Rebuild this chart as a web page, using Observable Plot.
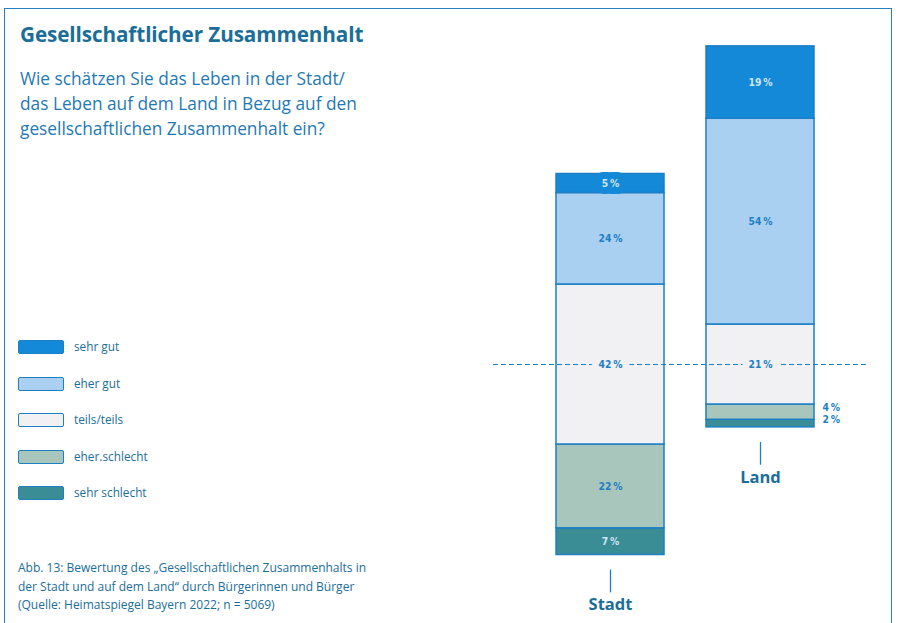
<!DOCTYPE html>
<html>
<head>
<meta charset="utf-8">
<script src="https://cdn.jsdelivr.net/npm/d3@7"></script>
<script src="https://cdn.jsdelivr.net/npm/@observablehq/plot@0.6"></script>
<style>
  html, body { margin: 0; padding: 0; background: #fff; }
  #page { position: relative; width: 899px; height: 623px; overflow: hidden; font-family: "Open Sans", Lato, sans-serif; }
  #frame { position: absolute; left: 4px; top: 8px; width: 888px; height: 640px; border: 1.3px solid #2a7fbd; box-sizing: border-box; }
  #chart { position: absolute; left: 0; top: 0; }
  #title { position: absolute; left: 20px; top: 20px; font-size: 20.7px; font-weight: 700; color: #1a6e98; white-space: nowrap; letter-spacing: -0.1px; }
  #subtitle { position: absolute; left: 20px; top: 66px; font-size: 17.3px; line-height: 25px; color: #1f79b2; white-space: nowrap; }
  #legend { position: absolute; left: 18px; top: 338px; }
  .item { position: relative; height: 36.5px; }
  .sw { position: absolute; left: 0; top: 2px; width: 46px; height: 14px; border: 1.5px solid #1d7fc4; border-radius: 2px; box-sizing: border-box; }
  .lab { position: absolute; left: 56px; top: 0px; font-size: 11.8px; line-height: 17px; color: #1b6e98; white-space: nowrap; }
  #caption { position: absolute; left: 18px; top: 559px; font-size: 12px; line-height: 18.5px; color: #1b6e98; white-space: nowrap; }
</style>
</head>
<body>
<div id="page">
  <div id="frame"></div>
  <div id="chart"></div>
  <div id="title">Gesellschaftlicher Zusammenhalt</div>
  <div id="subtitle">Wie schätzen Sie das Leben in der Stadt/<br>das Leben auf dem Land in Bezug auf den<br>gesellschaftlichen Zusammenhalt ein?</div>
  <div id="legend"></div>
  <div id="caption">Abb. 13: Bewertung des „Gesellschaftlichen Zusammenhalts in<br>der Stadt und auf dem Land“ durch Bürgerinnen und Bürger<br>(Quelle: Heimatspiegel Bayern 2022; n = 5069)</div>
</div>
<script>
const groups = ["Stadt", "Land"];
const categories = ["sehr gut", "eher gut", "teils/teils", "eher schlecht", "sehr schlecht"];
const legendLabels = ["sehr gut", "eher gut", "teils/teils", "eher.schlecht", "sehr schlecht"];
const stadtValues = [5, 24, 42, 22, 7];
const landValues = [19, 54, 21, 4, 2];
const colors = ["#1489d8", "#a9d0f1", "#f1f1f3", "#a8c6bc", "#3b8d95"];
const lightLabel = ["sehr gut", "sehr schlecht"];

function stack(group, values) {
  let y = -(values[4] + values[3] + values[2] / 2);
  const rows = [];
  for (let i = 4; i >= 0; i--) {
    rows.push({group, category: categories[i], value: values[i], y1: y, y2: y + values[i]});
    y += values[i];
  }
  return rows;
}
const rows = [...stack("Stadt", stadtValues), ...stack("Land", landValues)];
const groupRows = groups.map(g => ({group: g, bottom: d3.min(rows.filter(r => r.group === g), r => r.y1)}));

const blue = "#1d7fc4";
const mid = d => (d.y1 + d.y2) / 2;
const pct = d => d.value + "\u2009%";
const inside = rows.filter(d => d.value >= 5);
const outside = rows.filter(d => d.value < 5);
const labelFont = {fontFamily: "'DejaVu Sans Condensed', 'DejaVu Sans', sans-serif", fontWeight: "bold", fontSize: 10.3};

const chart = Plot.plot({
  width: 899,
  height: 623,
  marginLeft: 493,
  marginRight: 33,
  marginTop: 0,
  marginBottom: 0,
  x: {type: "band", domain: groups, range: [535, 835], paddingInner: 0.28, paddingOuter: 0.14, axis: null},
  y: {domain: [-50, 50], range: [554.5, 173.5], axis: null},
  color: {domain: categories, range: colors},
  marks: [
    Plot.rectY(rows, {x: "group", y1: "y1", y2: "y2", fill: "category", stroke: blue, strokeWidth: 1.5}),
    Plot.ruleY([0], {stroke: blue, strokeWidth: 1.2, strokeDasharray: "5,3"}),
    Plot.text(inside, {x: "group", y: mid, text: pct, fill: "category", stroke: "category", strokeWidth: 14, ...labelFont}),
    Plot.text(inside.filter(d => !lightLabel.includes(d.category)), {x: "group", y: mid, text: pct, fill: blue, ...labelFont}),
    Plot.text(inside.filter(d => lightLabel.includes(d.category)), {x: "group", y: mid, text: pct, fill: "#cfe4f4", ...labelFont}),
    Plot.text(outside, {x: "group", y: mid, dx: 62, dy: -4, text: pct, textAnchor: "start", fill: blue, ...labelFont}),
    Plot.ruleX(groupRows, {x: "group", y1: "bottom", y2: d => d.bottom - 6, dy: 15, stroke: blue, strokeWidth: 1.3}),
    Plot.text(groupRows, {x: "group", y: "bottom", dy: 50, text: "group", fill: "#1b6e98", fontSize: 16.5, fontWeight: "bold", fontFamily: "'Open Sans', sans-serif"})
  ]
});
document.getElementById("chart").appendChild(chart);

const legend = document.getElementById("legend");
categories.forEach((c, i) => {
  const item = document.createElement("div");
  item.className = "item";
  const sw = document.createElement("div");
  sw.className = "sw";
  sw.style.background = colors[i];
  const lab = document.createElement("div");
  lab.className = "lab";
  lab.textContent = legendLabels[i];
  item.appendChild(sw);
  item.appendChild(lab);
  legend.appendChild(item);
});
</script>
</body>
</html>
